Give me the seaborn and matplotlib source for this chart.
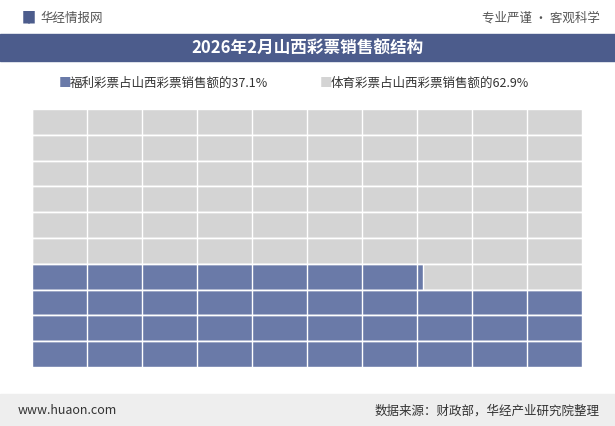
import matplotlib
matplotlib.use("Agg")
import matplotlib.pyplot as plt
import seaborn as sns
import pandas as pd
import numpy as np

labels = ["福利彩票占山西彩票销售额的37.1%", "体育彩票占山西彩票销售额的62.9%"]
shares = [37.1, 62.9]
n_rows = 10
n_cols = 10

sns.set_theme(style="white")
plt.rcParams['font.family'] = ['Noto Sans CJK SC', 'DejaVu Sans']

blue = "#6a7aa8"
gray = "#d4d4d4"
band = "#4c5c8c"

# blue length per row, bottom row first
rows = list(range(n_rows))
blue_len = [min(max(shares[0] - n_cols * i, 0), n_cols) for i in rows]
df = pd.DataFrame({"row": [str(n_rows - 1 - i) for i in rows][::-1],
                   "full": [n_cols] * n_rows,
                   "blue": blue_len[::-1]})

fig = plt.figure(figsize=(6.15, 4.27), dpi=100)
fig.patch.set_facecolor("white")

# header
fig.text(0.065, 0.957, "华经情报网", fontsize=9, color="#555555", va="center")
fig.text(0.028, 0.957, "▐▌", fontsize=9, color="#4c5c8c", va="center")
fig.text(0.975, 0.957, "专业严谨 • 客观科学", fontsize=9, color="#555555", va="center", ha="right")
fig.add_artist(plt.Rectangle((0.0, 0.855), 1.0, 0.063, transform=fig.transFigure, color=band))
fig.text(0.5, 0.886, "2026年2月山西彩票销售额结构", fontsize=12, color="white",
         ha="center", va="center", fontweight="bold")
# footer
fig.add_artist(plt.Rectangle((0.0, 0.0), 1.0, 0.075, transform=fig.transFigure, color="#eeeeee"))
fig.text(0.028, 0.038, "www.huaon.com", fontsize=9, color="#333333", va="center")
fig.text(0.975, 0.038, "数据来源：财政部，华经产业研究院整理", fontsize=9, color="#333333",
         va="center", ha="right")

ax = fig.add_axes([32 / 615, 1 - 368 / 427, 550 / 615, 258 / 427])
order = [str(i) for i in range(n_rows)]
sns.barplot(data=df, y="row", x="full", order=order, color=gray, width=1.0,
            saturation=1, ax=ax, orient="h")
sns.barplot(data=df, y="row", x="blue", order=order, color=blue, width=1.0,
            saturation=1, ax=ax, orient="h")
ax.set_xlim(0, n_cols)
ax.set_ylim(n_rows - 0.5, -0.5)
for x in range(1, n_cols):
    ax.axvline(x, color="white", lw=1)
for y in range(n_rows - 1):
    ax.axhline(y + 0.5, color="white", lw=1)
ax.set_xticks([])
ax.set_yticks([])
ax.set_xlabel("")
ax.set_ylabel("")
for s in ax.spines.values():
    s.set_visible(False)

# legend
fig.text(0.095, 0.805, "■", color=blue, fontsize=9, va="center")
fig.text(0.113, 0.805, labels[0], fontsize=9, color="#333333", va="center")
fig.text(0.52, 0.805, "■", color=gray, fontsize=9, va="center")
fig.text(0.538, 0.805, labels[1], fontsize=9, color="#333333", va="center")

fig.savefig("out.png", dpi=100)
